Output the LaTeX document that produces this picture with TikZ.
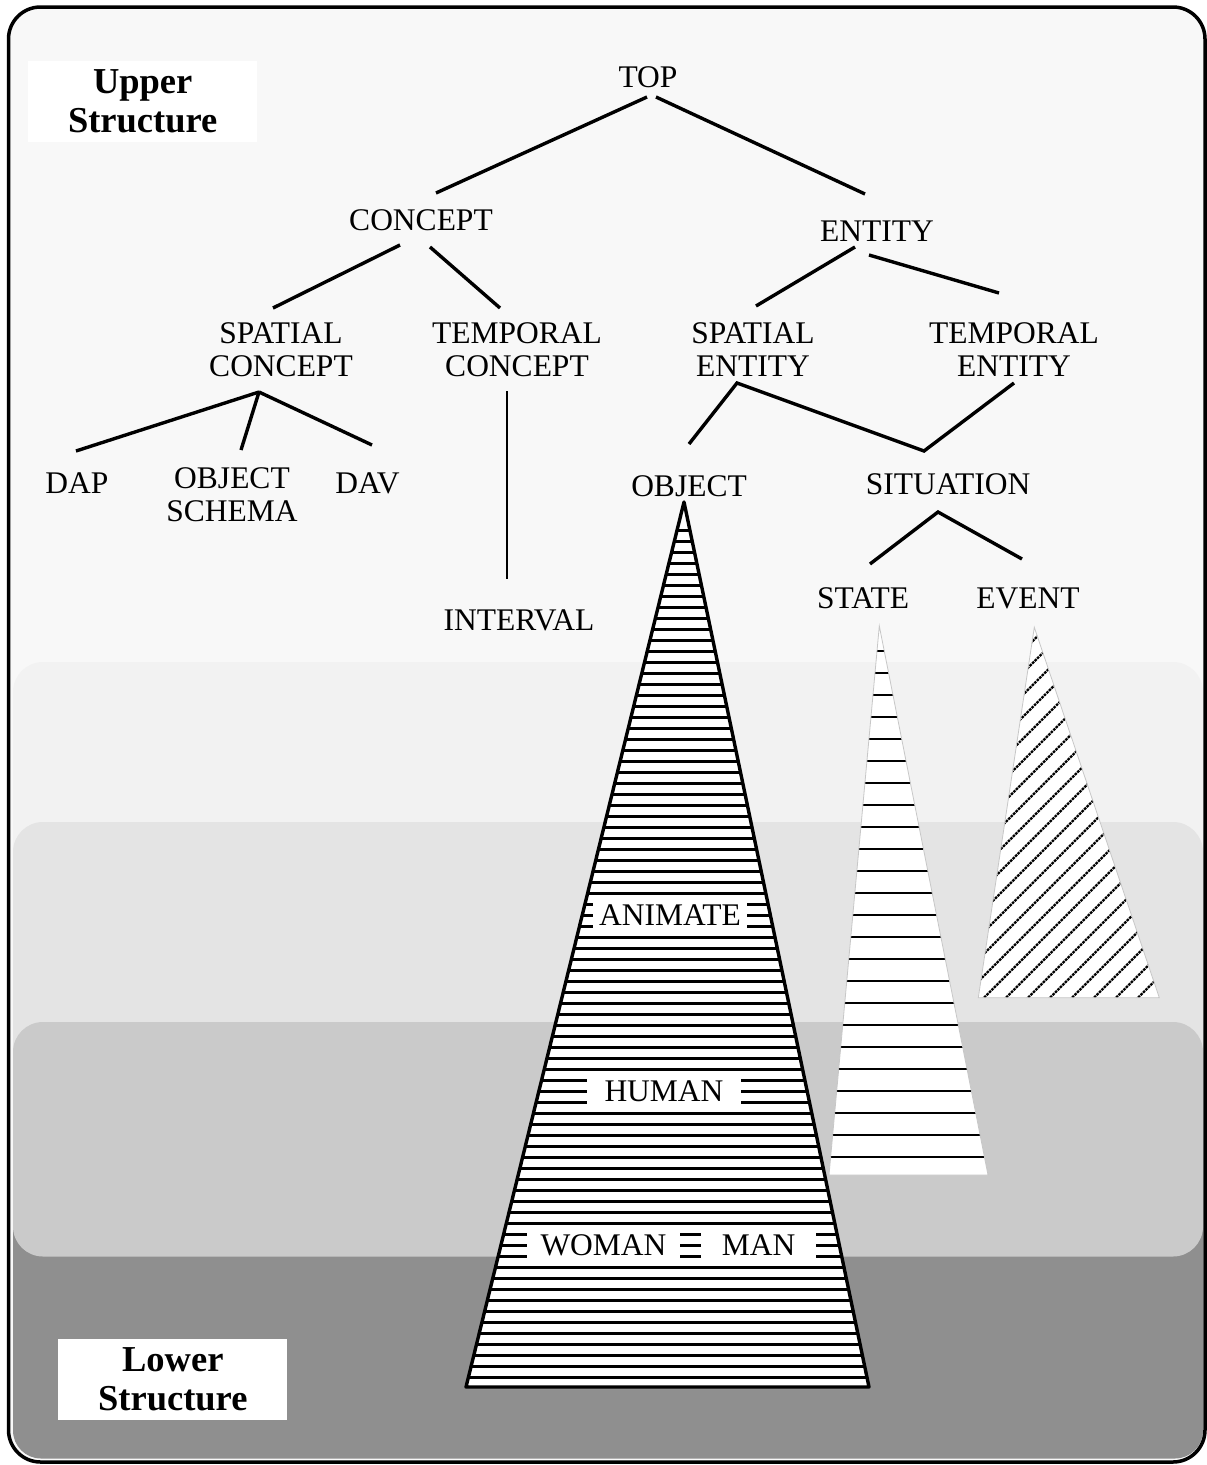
\documentclass[tikz,border=0pt]{standalone}
\usepackage{fontspec}
\setmainfont{Liberation Serif}
\definecolor{framefill}{HTML}{F8F8F8}
\definecolor{bandA}{HTML}{F2F2F2}
\definecolor{bandB}{HTML}{E4E4E4}
\definecolor{bandC}{HTML}{CACACA}
\definecolor{bandD}{HTML}{8F8F8F}
\begin{document}
\begin{tikzpicture}[x=1pt,y=-1pt,
  lbl/.style={font=\fontsize{31.5}{33}\selectfont, inner sep=0pt, align=center},
  tag/.style={font=\fontsize{36.5}{39}\selectfont\bfseries, fill=white, align=center,
              minimum width=229pt, minimum height=80.5pt, inner sep=0pt},
  conn/.style={line width=3.4pt},
  inbox/.style={font=\fontsize{31.5}{33}\selectfont, fill=white, inner sep=0pt,
                minimum height=33pt, text height=21pt, text depth=0pt},
  stripe/.style={line width=3pt},
  thinstripe/.style={line width=2.5pt},
  hatch/.style={line width=2.2pt, dash pattern=on 2.6pt off 0.9pt},
  faint/.style={draw=black!22, line width=0.8pt},
]
\useasboundingbox (0,0) rectangle (1207,1465);

% outer panel
\fill[framefill, rounded corners=32pt] (8.5,7) rectangle (1205,1462);

% horizontal layers
\fill[bandA, rounded corners=30pt] (13,662) rectangle (1203,900);
\fill[bandB, rounded corners=30pt] (13,822) rectangle (1203,1100);
\fill[bandD, rounded corners=28pt] (13,1200) rectangle (1203,1458.5);
\fill[bandC, rounded corners=30pt] (13,1022) rectangle (1203,1256.5);

% layer captions
\node[tag] (upper) at (142.7,101.3) {Upper\\Structure};
\node[tag] (lower) at (172.8,1379.7) {Lower\\Structure};

% tree labels
\node[lbl, anchor=base] (top) at (648,87) {TOP};
\node[lbl, anchor=base] (concept) at (421,230) {CONCEPT};
\node[lbl, anchor=base] (entity) at (877,241) {ENTITY};
\node[lbl] (spc) at (281,350) {SPATIAL\\CONCEPT};
\node[lbl] (tpc) at (517,350) {TEMPORAL\\CONCEPT};
\node[lbl] (spe) at (753,350) {SPATIAL\\ENTITY};
\node[lbl] (tpe) at (1014,350) {TEMPORAL\\ENTITY};
\node[lbl, anchor=base] (dap) at (77,493) {DAP};
\node[lbl] (osc) at (232,494.5) {OBJECT\\SCHEMA};
\node[lbl, anchor=base] (dav) at (367.5,493) {DAV};
\node[lbl, anchor=base] (object) at (689,496) {OBJECT};
\node[lbl, anchor=base] (situation) at (948,494) {SITUATION};
\node[lbl, anchor=base] (state) at (863,608) {STATE};
\node[lbl, anchor=base] (event) at (1028,608) {EVENT};
\node[lbl, anchor=base] (interval) at (519,630) {INTERVAL};

% connector end points
\coordinate (top-l) at (647,97);
\coordinate (top-r) at (656,97);
\coordinate (concept-t) at (436,193);
\coordinate (entity-t) at (865,194);
\coordinate (concept-l) at (400,245);
\coordinate (concept-r) at (430,247);
\coordinate (spc-t) at (273,308);
\coordinate (tpc-t) at (500,308);
\coordinate (entity-l) at (855,247);
\coordinate (entity-r) at (869,255);
\coordinate (spe-t) at (756,306);
\coordinate (tpe-t) at (999,293);
\coordinate (spc-j) at (259,392);
\coordinate (dap-t) at (76,451);
\coordinate (osc-t) at (241,450);
\coordinate (dav-t) at (372,445);
\coordinate (tpc-b) at (507,391);
\coordinate (interval-t) at (507,579);
\coordinate (spe-j) at (737,383);
\coordinate (object-t) at (689,444);
\coordinate (situation-t) at (924,451);
\coordinate (tpe-j) at (1014,383);
\coordinate (situation-j) at (938,512);
\coordinate (state-t) at (870,564);
\coordinate (event-t) at (1022,559);

% connectors
\draw[conn] (top-l) -- (concept-t);
\draw[conn] (top-r) -- (entity-t);
\draw[conn] (concept-l) -- (spc-t);
\draw[conn] (concept-r) -- (tpc-t);
\draw[conn] (entity-l) -- (spe-t);
\draw[conn] (entity-r) -- (tpe-t);
\draw[conn] (spc-j) -- (dap-t);
\draw[conn] (spc-j) -- (osc-t);
\draw[conn] (spc-j) -- (dav-t);
\draw[line width=2.4pt] (tpc-b) -- (interval-t);
\draw[conn, line join=miter] (object-t) -- (spe-j) -- (situation-t) -- (tpe-j);
\draw[conn, line join=miter] (state-t) -- (situation-j) -- (event-t);

% OBJECT cone
\coordinate (oa) at (684,502);
\coordinate (ol) at (466,1387);
\coordinate (or) at (869,1387);
\fill[white] (oa) -- (ol) -- (or) -- cycle;
\begin{scope}
  \clip (oa) -- (ol) -- (or) -- cycle;
  \foreach \k in {0,...,77}
    \draw[stripe] (450,{530+11*\k}) -- (880,{530+11*\k});
\end{scope}
\node[inbox, minimum width=154pt] (animate) at (670,915) {ANIMATE};
\node[inbox, minimum width=154pt] (human) at (664,1091) {HUMAN};
\node[inbox, minimum width=153pt] (woman) at (603.5,1245) {WOMAN};
\node[inbox, minimum width=115pt] (man) at (758.5,1245) {MAN};
\draw[line width=3.4pt, line join=round] (oa) -- (ol) -- (or) -- cycle;

% STATE cone
\coordinate (sa) at (879.3,626);
\coordinate (sl) at (829,1175);
\coordinate (sr) at (988,1175);
\fill[white] (sa) -- (sl) -- (sr) -- cycle;
\begin{scope}
  \clip (sa) -- (sl) -- (sr) -- cycle;
  \foreach \k in {0,...,23}
    \draw[thinstripe] (820,{651+22*\k}) -- (1000,{651+22*\k});
\end{scope}
\draw[faint] (sa) -- (sl) -- (sr) -- cycle;

% EVENT cone
\coordinate (ea) at (1034.3,627.3);
\coordinate (el) at (978.3,997.7);
\coordinate (er) at (1159.3,997.7);
\fill[white] (ea) -- (el) -- (er) -- cycle;
\begin{scope}
  \clip (ea) -- (el) -- (er) -- cycle;
  \foreach \k in {-16,...,9}
    \draw[hatch] ({1981.7+22*\k-1010},1010) -- ({1981.7+22*\k-610},610);
\end{scope}
\draw[faint] (ea) -- (el) -- (er) -- cycle;

% panel border
\draw[line width=3.5pt, rounded corners=32pt] (8.5,7) rectangle (1205,1462);
\end{tikzpicture}
\end{document}
